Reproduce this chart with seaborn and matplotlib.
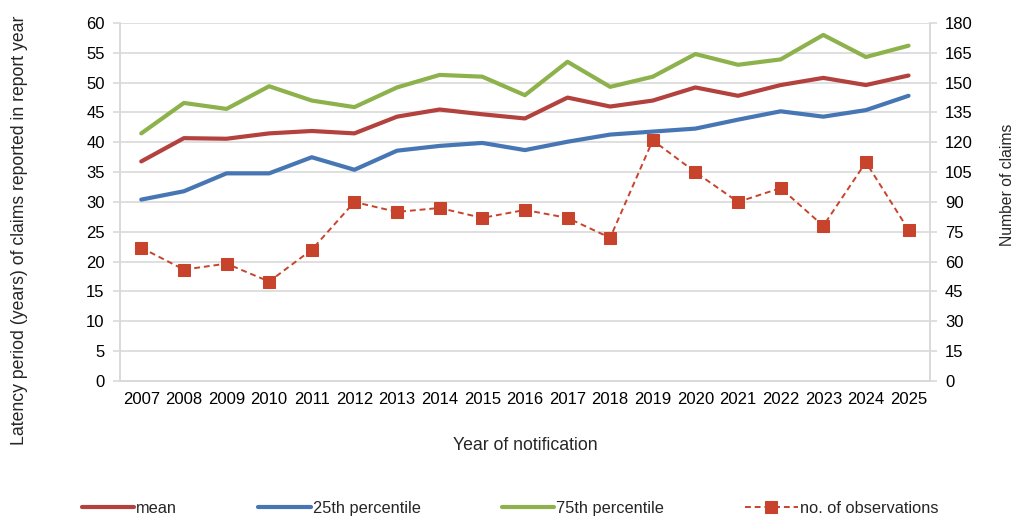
import matplotlib
matplotlib.use("Agg")
import matplotlib.pyplot as plt
import pandas as pd
import seaborn as sns

# Data
years = list(range(2007, 2026))
mean = [36.8, 40.7, 40.6, 41.5, 41.9, 41.5, 44.3, 45.5, 44.7, 44.0,
        47.5, 46.0, 47.0, 49.2, 47.8, 49.6, 50.8, 49.6, 51.2]
p25 = [30.4, 31.8, 34.8, 34.8, 37.5, 35.4, 38.6, 39.4, 39.9, 38.7,
       40.1, 41.3, 41.8, 42.3, 43.8, 45.2, 44.3, 45.4, 47.8]
p75 = [41.5, 46.6, 45.6, 49.4, 47.0, 45.9, 49.2, 51.3, 51.0, 47.9,
       53.5, 49.3, 51.0, 54.8, 53.0, 53.9, 58.0, 54.3, 56.2]
n_obs = [67, 56, 59, 50, 66, 90, 85, 87, 82, 86,
         82, 72, 121, 105, 90, 97, 78, 110, 76]

df = pd.DataFrame({"year": years, "mean": mean, "p25": p25, "p75": p75, "n_obs": n_obs})

sns.set_theme(style="white")
plt.rcParams["font.family"] = ["Liberation Sans", "DejaVu Sans"]

grid_col = "#D9D9D9"

fig = plt.figure(figsize=(10.14, 5.18), dpi=100)
ax = fig.add_axes([0.1183, 0.2645, 0.7987, 0.6911])
ax2 = ax.twinx()

sns.lineplot(data=df, x="year", y="mean", ax=ax, color="#B3413E", lw=3.0, label="mean", legend=False)
sns.lineplot(data=df, x="year", y="p25", ax=ax, color="#4776B4", lw=3.0, label="25th percentile", legend=False)
sns.lineplot(data=df, x="year", y="p75", ax=ax, color="#8DB24C", lw=3.0, label="75th percentile", legend=False)
sns.lineplot(data=df, x="year", y="n_obs", ax=ax2, color="#C8432B", lw=1.4, ls=(0, (3, 2)),
             marker="s", markersize=9, markeredgecolor="#C8432B",
             label="no. of observations", legend=False)

ax.set_xlim(2006.5, 2025.5)
ax.set_ylim(0, 60)
ax2.set_ylim(0, 180)
ax.set_yticks(range(0, 61, 5))
ax2.set_yticks(range(0, 181, 15))
ax.set_xticks(years)
ax.set_xticks([y + 0.5 for y in range(2006, 2026)], minor=True)

ax.grid(axis="y", color=grid_col, lw=1.2)
ax.set_axisbelow(True)
for a in (ax, ax2):
    for s in a.spines.values():
        s.set_color(grid_col)
        s.set_linewidth(1.2)
    a.spines["top"].set_visible(False)

ax.tick_params(axis="x", which="major", length=0, labelsize=12, pad=8, colors="black")
ax.tick_params(axis="x", which="minor", length=5, width=1.2, color=grid_col)
ax.tick_params(axis="y", length=5, width=1.2, color=grid_col, labelsize=12, labelcolor="black", pad=6)
ax2.tick_params(axis="y", length=5, width=1.2, color=grid_col, labelsize=12, labelcolor="black", pad=6)

ax.set_xlabel("Year of notification", fontsize=12.7)
ax.xaxis.set_label_coords(0.501, -0.156)
ax.set_ylabel("Latency period (years) of claims reported in report year", fontsize=12.7,
              va="center")
ax.yaxis.set_label_coords(-0.1235, 0.422)
ax2.set_ylabel("Number of claims", fontsize=11.3, va="center")
ax2.yaxis.set_label_coords(1.096, 0.547)

h1, l1 = ax.get_legend_handles_labels()
h2, l2 = ax2.get_legend_handles_labels()
fig.legend(h1 + h2, l1 + l2, loc="center", bbox_to_anchor=(0.503, 0.019), ncol=4,
           frameon=False, fontsize=11.8, handlelength=3.2, columnspacing=4.95, handletextpad=0.12)

fig.savefig("out.png", dpi=100)
